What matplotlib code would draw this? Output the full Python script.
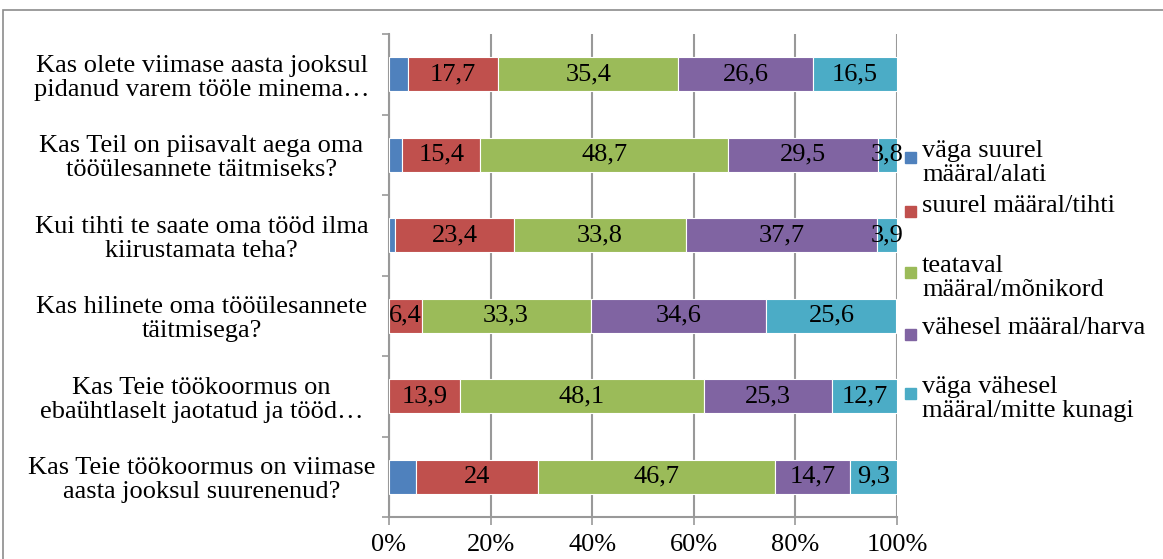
import numpy as np
import matplotlib.pyplot as plt
from matplotlib.patches import Rectangle

plt.rcParams['font.family'] = ['Liberation Serif', 'DejaVu Serif']

questions = [
    'Kas olete viimase aasta jooksul\npidanud varem tööle minema…',
    'Kas Teil on piisavalt aega oma\ntööülesannete täitmiseks?',
    'Kui tihti te saate oma tööd ilma\nkiirustamata teha?',
    'Kas hilinete oma tööülesannete\ntäitmisega?',
    'Kas Teie töökoormus on\nebaühtlaselt jaotatud ja tööd…',
    'Kas Teie töökoormus on viimase\naasta jooksul suurenenud?',
]
series_names = [
    'väga suurel\nmääral/alati',
    'suurel määral/tihti',
    'teataval\nmääral/mõnikord',
    'vähesel määral/harva',
    'väga vähesel\nmääral/mitte kunagi',
]
always = [3.8, 2.6, 1.2, 0, 0, 5.3]
often = [17.7, 15.4, 23.4, 6.4, 13.9, 24]
sometimes = [35.4, 48.7, 33.8, 33.3, 48.1, 46.7]
rarely = [26.6, 29.5, 37.7, 34.6, 25.3, 14.7]
never = [16.5, 3.8, 3.9, 25.6, 12.7, 9.3]
xticks = [0, 20, 40, 60, 80, 100]

colors = ['#4F81BD', '#C0504D', '#9BBB59', '#8064A2', '#4BACC6']
grey = '#999999'
fs = 19
ls = 1.12

W, H = 1163, 559
fig = plt.figure(figsize=(W / 100, H / 100), dpi=100)
ax = fig.add_axes([389 / W, 1 - 517 / H, (897 - 389) / W, (517 - 34) / H])

y = np.arange(len(questions))
left = np.zeros(len(questions))
all_series = [always, often, sometimes, rarely, never]
for i, vals in enumerate(all_series):
    vals = np.array(vals, dtype=float)
    bars = ax.barh(y, vals, left=left, height=0.42, color=colors[i],
                   edgecolor='white', linewidth=0.8, zorder=3)
    if i > 0:
        labels = [f'{v:g}'.replace('.', ',') for v in vals]
        ax.bar_label(bars, labels=labels, label_type='center', fontsize=fs,
                     color='black', zorder=4)
    left += vals

ax.set_xlim(0, 100)
ax.set_ylim(len(questions) - 0.5, -0.5)
ax.set_xticks(xticks)
ax.set_xticklabels([f'{t}%' for t in xticks], fontsize=fs)
ax.set_yticks(y)
ax.set_yticklabels(questions, fontsize=fs, ha='center', linespacing=ls)
ax.set_yticks(np.arange(-0.5, len(questions)), minor=True)
ax.tick_params(axis='y', which='major', length=0, pad=135)
ax.tick_params(axis='y', which='minor', length=5, color=grey, width=1.2)
ax.tick_params(axis='x', length=6, color=grey, width=1.2, pad=6)

ax.grid(axis='x', color=grey, linewidth=1.5, zorder=0)
ax.spines['top'].set_visible(False)
ax.spines['right'].set_visible(False)
for s in ['left', 'bottom']:
    ax.spines[s].set_color(grey)
    ax.spines[s].set_linewidth(1.5)

# legend drawn by hand, Excel style (marker beside first line)
legend_y = [157, 212, 272, 334, 393]
for name, c, ly in zip(series_names, colors, legend_y):
    fig.add_artist(Rectangle((905 / W, 1 - (ly + 5.5) / H), 11 / W, 11 / H,
                             transform=fig.transFigure, color=c))
    fig.text(922 / W, 1 - (ly - 17) / H, name, fontsize=fs, va='top',
             ha='left', linespacing=ls)

# chart area border
fig.add_artist(Rectangle((3 / W, -0.2), 1.2, 1.2 - 10 / H,
                         transform=fig.transFigure, fill=False,
                         edgecolor='#8c8c8c', linewidth=1.2))

fig.savefig('out.png', dpi=100)
